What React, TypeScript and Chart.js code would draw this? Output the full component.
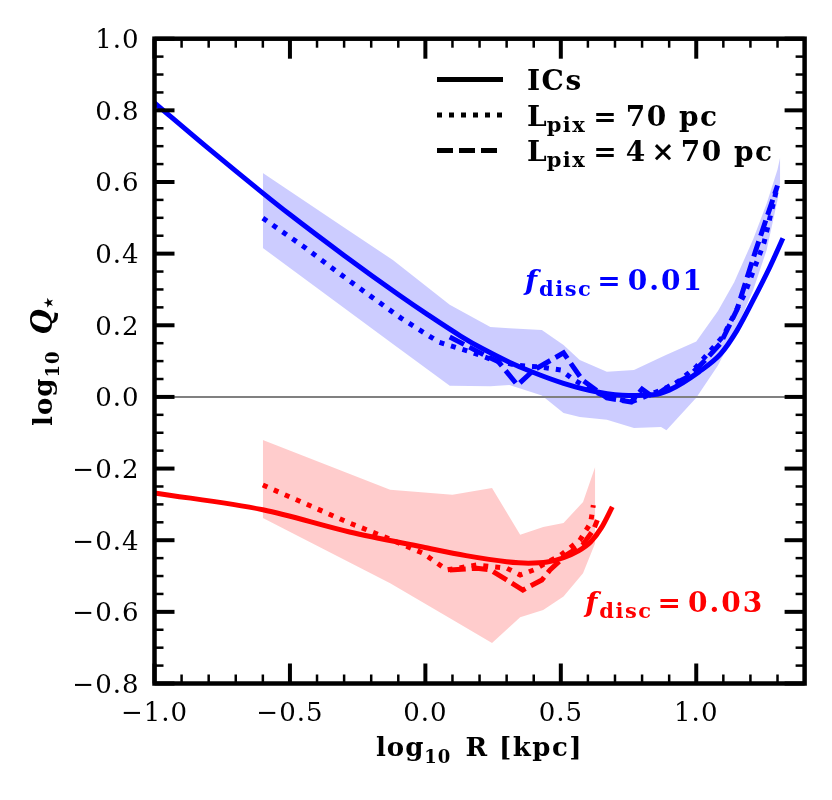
import React, { useEffect, useRef } from "react";
import { Chart, registerables } from "chart.js";

Chart.register(...registerables);

const BLUE = "#0000ff";
const RED = "#ff0000";
const SERIF = '"DejaVu Serif", serif';

// axis limits and tick labels
const xMin = -1.0;
const xMax = 1.4;
const yMin = -0.8;
const yMax = 1.0;
const xMajorTicks = [-1.0, -0.5, 0.0, 0.5, 1.0];
const xTickLabels = ["−1.0", "−0.5", "0.0", "0.5", "1.0"];
const yMajorTicks = [-0.8, -0.6, -0.4, -0.2, 0.0, 0.2, 0.4, 0.6, 0.8, 1.0];
const yTickLabels = ["−0.8", "−0.6", "−0.4", "−0.2", "0.0", "0.2", "0.4", "0.6", "0.8", "1.0"];
const xMinorStep = 0.1;
const yMinorStep = 0.05;

// f_disc = 0.01 (blue)
const icsBlueX = [-1.0, -0.8, -0.6, -0.5, -0.3, -0.1, 0.01, 0.13, 0.21, 0.31, 0.39, 0.51, 0.64, 0.75, 0.84, 0.9, 1.01, 1.09, 1.15, 1.21, 1.27, 1.32];
const icsBlueY = [0.821, 0.693, 0.569, 0.509, 0.395, 0.286, 0.229, 0.17, 0.135, 0.097, 0.071, 0.038, 0.013, 0.004, 0.006, 0.019, 0.07, 0.12, 0.185, 0.27, 0.36, 0.443];

const pix70BlueX = [-0.6, -0.45, -0.32, -0.2, -0.09, 0.05, 0.17, 0.25, 0.34, 0.43, 0.5, 0.55, 0.61, 0.67, 0.76, 0.84, 0.92, 1.0, 1.1, 1.18, 1.25, 1.3];
const pix70BlueY = [0.499, 0.42, 0.346, 0.28, 0.22, 0.153, 0.125, 0.103, 0.088, 0.083, 0.075, 0.047, 0.02, 0.0, -0.014, 0.01, 0.035, 0.084, 0.17, 0.29, 0.43, 0.59];

const pix280BlueX = [0.09, 0.16, 0.23, 0.27, 0.34, 0.4, 0.51, 0.58, 0.67, 0.76, 0.8, 0.84, 0.9, 0.97, 1.03, 1.09, 1.15, 1.22, 1.26, 1.3];
const pix280BlueY = [0.167, 0.14, 0.112, 0.098, 0.033, 0.075, 0.123, 0.047, -0.003, -0.014, 0.022, 0.0, 0.03, 0.056, 0.1, 0.15, 0.243, 0.41, 0.5, 0.59];

const bandBlueX = [-0.6, -0.3, -0.12, 0.09, 0.24, 0.31, 0.43, 0.51, 0.57, 0.67, 0.77, 0.87, 0.89, 1.0, 1.08, 1.14, 1.21, 1.26, 1.3, 1.31];
const bandBlueHi = [0.625, 0.473, 0.382, 0.257, 0.195, 0.192, 0.187, 0.145, 0.103, 0.07, 0.075, 0.111, 0.118, 0.155, 0.24, 0.32, 0.44, 0.54, 0.635, 0.67];
const bandBlueLo = [0.416, 0.248, 0.148, 0.031, 0.03, 0.033, 0.004, -0.045, -0.056, -0.064, -0.087, -0.084, -0.093, -0.002, 0.088, 0.175, 0.298, 0.41, 0.55, 0.6];

// f_disc = 0.03 (red)
const icsRedX = [-1.0, -0.6, -0.28, -0.01, 0.15, 0.3, 0.38, 0.45, 0.51, 0.56, 0.61, 0.65, 0.69];
const icsRedY = [-0.268, -0.315, -0.377, -0.419, -0.443, -0.46, -0.464, -0.461, -0.449, -0.432, -0.405, -0.365, -0.307];

const pix70RedX = [-0.6, -0.44, -0.28, -0.14, -0.01, 0.08, 0.19, 0.3, 0.35, 0.4, 0.5, 0.57, 0.61, 0.62];
const pix70RedY = [-0.246, -0.299, -0.352, -0.394, -0.436, -0.483, -0.469, -0.478, -0.497, -0.483, -0.441, -0.4, -0.352, -0.302];

const pix280RedX = [0.09, 0.19, 0.24, 0.3, 0.36, 0.43, 0.46, 0.52, 0.58, 0.62, 0.635];
const pix280RedY = [-0.483, -0.478, -0.483, -0.511, -0.539, -0.511, -0.483, -0.441, -0.413, -0.372, -0.344];

const bandRedX = [-0.6, -0.13, 0.1, 0.246, 0.35, 0.435, 0.51, 0.582, 0.627];
const bandRedHi = [-0.12, -0.259, -0.273, -0.254, -0.385, -0.363, -0.352, -0.293, -0.195];
const bandRedLo = [-0.338, -0.52, -0.622, -0.687, -0.615, -0.595, -0.557, -0.492, -0.408];

// annotation anchors (data coords, text baseline)
const labelBlue = { x: 0.368, y: 0.298, value: "0.01" };
const labelRed = { x: 0.59, y: -0.6, value: "0.03" };

const pts = (xs: number[], ys: number[]) => xs.map((x, i) => ({ x, y: ys[i] }));

type Part = { t: string; font: string; dy?: number; gap?: number; ls?: number };

function drawRich(ctx: CanvasRenderingContext2D, parts: Part[], x: number, y: number, align: "left" | "center") {
  const c = ctx as any;
  const widthOf = (p: Part) => {
    ctx.font = p.font;
    c.letterSpacing = `${p.ls || 0}px`;
    return ctx.measureText(p.t).width;
  };
  let w = 0;
  for (const p of parts) w += (p.gap || 0) + widthOf(p);
  let cx = align === "center" ? x - w / 2 : x;
  ctx.textAlign = "left";
  ctx.textBaseline = "alphabetic";
  for (const p of parts) {
    cx += p.gap || 0;
    const pw = widthOf(p);
    ctx.fillText(p.t, cx, y + (p.dy || 0));
    cx += pw;
  }
  c.letterSpacing = "0px";
}

const bold = (s: number) => `bold ${s}px ${SERIF}`;

const fdiscParts = (value: string): Part[] => [
  { t: "f", font: `italic bold 28px ${SERIF}` },
  { t: "disc", font: bold(21), dy: 6, gap: 2, ls: 1.5 },
  { t: "=", font: bold(28), gap: 5 },
  { t: value, font: bold(28), gap: 7, ls: 2 },
];

const framePlugin = {
  id: "frame",
  afterDatasetsDraw(chart: any) {
    const ctx: CanvasRenderingContext2D = chart.ctx;
    const { left, right, top, bottom } = chart.chartArea;
    const xs = chart.scales.x;
    const ys = chart.scales.y;
    ctx.save();

    // annotations
    ctx.fillStyle = BLUE;
    drawRich(ctx, fdiscParts(labelBlue.value), xs.getPixelForValue(labelBlue.x), ys.getPixelForValue(labelBlue.y), "left");
    ctx.fillStyle = RED;
    drawRich(ctx, fdiscParts(labelRed.value), xs.getPixelForValue(labelRed.x), ys.getPixelForValue(labelRed.y), "left");

    // ticks, inward on all four sides
    ctx.strokeStyle = "#000";
    ctx.lineCap = "butt";
    const tick = (x1: number, y1: number, x2: number, y2: number, w: number) => {
      ctx.lineWidth = w;
      ctx.beginPath();
      ctx.moveTo(x1, y1);
      ctx.lineTo(x2, y2);
      ctx.stroke();
    };
    for (let i = Math.round(xMin / xMinorStep); i <= Math.round(xMax / xMinorStep); i++) {
      const major = i % 5 === 0;
      const px = xs.getPixelForValue(i * xMinorStep);
      const len = major ? 20 : 9;
      const w = major ? 4 : 2.5;
      tick(px, bottom, px, bottom - len, w);
      tick(px, top, px, top + len, w);
    }
    for (let i = Math.round(yMin / yMinorStep); i <= Math.round(yMax / yMinorStep); i++) {
      const major = i % 4 === 0;
      const py = ys.getPixelForValue(i * yMinorStep);
      const len = major ? 20 : 9;
      const w = major ? 4 : 2.5;
      tick(left, py, left + len, py, w);
      tick(right, py, right - len, py, w);
    }

    // spines
    ctx.lineWidth = 4.5;
    ctx.strokeRect(left, top, right - left, bottom - top);

    // tick labels
    ctx.fillStyle = "#000";
    const tickFont = `26px ${SERIF}`;
    xMajorTicks.forEach((v, i) => {
      const p: Part = { t: xTickLabels[i], font: tickFont, ls: 1 };
      drawRich(ctx, [p], xs.getPixelForValue(v), bottom + 37, "center");
    });
    yMajorTicks.forEach((v, i) => {
      const c = ctx as any;
      ctx.font = tickFont;
      c.letterSpacing = "1px";
      ctx.textAlign = "right";
      ctx.textBaseline = "alphabetic";
      ctx.fillText(yTickLabels[i], left - 15, ys.getPixelForValue(v) + 9.5);
      c.letterSpacing = "0px";
    });

    // axis titles
    drawRich(
      ctx,
      [
        { t: "log", font: bold(26), ls: 1 },
        { t: "10", font: bold(18), dy: 7, ls: 1 },
        { t: "R [kpc]", font: bold(26), gap: 14, ls: 1.5 },
      ],
      (left + right) / 2,
      bottom + 72,
      "center"
    );
    ctx.save();
    ctx.translate(52, (top + bottom) / 2);
    ctx.rotate(-Math.PI / 2);
    drawRich(
      ctx,
      [
        { t: "log", font: bold(26), ls: 1 },
        { t: "10", font: bold(18), dy: 7, ls: 1 },
        { t: "Q", font: `italic bold 29px ${SERIF}`, gap: 16 },
        { t: "⋆", font: bold(20), dy: 3 },
      ],
      0,
      0,
      "center"
    );
    ctx.restore();

    // legend
    const hx0 = 437;
    const hx1 = 503;
    const tx = 527;
    const rows: { dash: number[]; parts: Part[]; base: number }[] = [
      { dash: [], base: 90, parts: [{ t: "ICs", font: bold(28), ls: 1.5 }] },
      {
        dash: [5, 7],
        base: 125.5,
        parts: [
          { t: "L", font: bold(28) },
          { t: "pix", font: bold(21), dy: 6, ls: 1.5 },
          { t: "=", font: bold(28), gap: 7 },
          { t: "70 pc", font: bold(28), gap: 9, ls: 1.5 },
        ],
      },
      {
        dash: [16, 6],
        base: 161,
        parts: [
          { t: "L", font: bold(28) },
          { t: "pix", font: bold(21), dy: 6, ls: 1.5 },
          { t: "=", font: bold(28), gap: 7 },
          { t: "4", font: bold(28), gap: 9 },
          { t: "×", font: bold(28), gap: 6 },
          { t: "70 pc", font: bold(28), gap: 6, ls: 1.5 },
        ],
      },
    ];
    for (const r of rows) {
      ctx.strokeStyle = "#000";
      ctx.lineWidth = 5;
      ctx.setLineDash(r.dash);
      ctx.beginPath();
      ctx.moveTo(hx0, r.base - 10.5);
      ctx.lineTo(hx1, r.base - 10.5);
      ctx.stroke();
      ctx.setLineDash([]);
      ctx.fillStyle = "#000";
      drawRich(ctx, r.parts, tx, r.base, "left");
    }

    ctx.restore();
  },
};

const lineDs = (xs: number[], ys: number[], color: string, dash: number[], smooth = false) => ({
  data: pts(xs, ys),
  borderColor: color,
  borderWidth: 5,
  borderDash: dash,
  borderCapStyle: "butt" as const,
  pointRadius: 0,
  fill: false,
  tension: smooth ? 0.4 : 0,
  cubicInterpolationMode: smooth ? ("monotone" as const) : ("default" as const),
});

const bandDs = (xs: number[], ys: number[], color: string, fill: any) => ({
  data: pts(xs, ys),
  borderColor: "transparent",
  backgroundColor: color,
  borderWidth: 0,
  pointRadius: 0,
  fill,
  tension: 0,
});

const App: React.FC = () => {
  const canvasRef = useRef<HTMLCanvasElement>(null);
  const chartRef = useRef<Chart | null>(null);

  useEffect(() => {
    if (!canvasRef.current) return;
    chartRef.current = new Chart(canvasRef.current, {
      type: "line",
      data: {
        datasets: [
          // first listed is drawn on top
          lineDs(pix280BlueX, pix280BlueY, BLUE, [16, 6]),
          lineDs(pix70BlueX, pix70BlueY, BLUE, [5, 7]),
          lineDs(icsBlueX, icsBlueY, BLUE, [], true),
          lineDs(pix280RedX, pix280RedY, RED, [16, 6]),
          lineDs(pix70RedX, pix70RedY, RED, [5, 7]),
          lineDs(icsRedX, icsRedY, RED, [], true),
          {
            data: pts([xMin, xMax], [0, 0]),
            borderColor: "#808080",
            borderWidth: 2,
            pointRadius: 0,
            fill: false,
          },
          bandDs(bandBlueX, bandBlueHi, "rgba(0,0,255,0.2)", "+1"),
          bandDs(bandBlueX, bandBlueLo, "rgba(0,0,255,0.2)", false),
          bandDs(bandRedX, bandRedHi, "rgba(255,0,0,0.2)", "+1"),
          bandDs(bandRedX, bandRedLo, "rgba(255,0,0,0.2)", false),
        ] as any,
      },
      options: {
        animation: false,
        responsive: false,
        devicePixelRatio: 1,
        layout: { padding: { left: 154.5, right: 27.4, top: 38.7, bottom: 116.5 } },
        scales: {
          x: { type: "linear", min: xMin, max: xMax, display: false },
          y: { type: "linear", min: yMin, max: yMax, display: false },
        },
        plugins: {
          legend: { display: false },
          tooltip: { enabled: false },
        },
      },
      plugins: [framePlugin],
    });
    return () => {
      chartRef.current?.destroy();
      chartRef.current = null;
    };
  }, []);

  return (
    <div style={{ position: "absolute", left: 0, top: 0, width: 832, height: 800, background: "#fff" }}>
      <canvas ref={canvasRef} width={832} height={800} style={{ width: 832, height: 800 }} />
    </div>
  );
};

export default App;
